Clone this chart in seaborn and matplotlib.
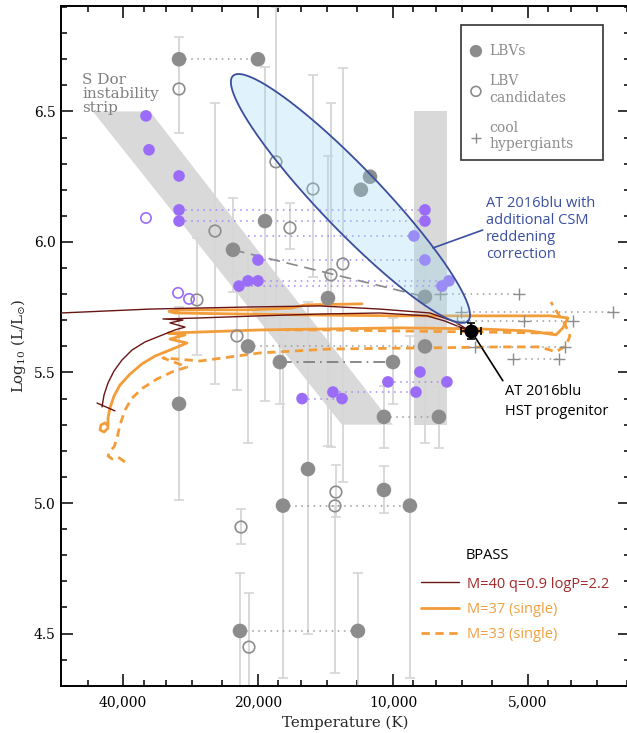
import numpy as np
import pandas as pd
import matplotlib
matplotlib.use("Agg")
import matplotlib.pyplot as plt
from matplotlib.ticker import FixedLocator, FuncFormatter, NullFormatter, MultipleLocator
from matplotlib.patches import Rectangle
import seaborn as sns

nan = np.nan

# LBVs (filled grey): temperature (K), log L, lower / upper end of error bar
lbv_T = [30000, 20000, 19290, 22740, 8484, 8484, 21050, 30000, 17870, 10000,
         13960, 11790, 11250, 10474, 7898, 15470, 10474, 17590, 9166, 21940, 11970]
lbv_L = [6.70, 6.70, 6.08, 5.97, 5.79, 5.60, 5.60, 5.38, 5.54, 5.54,
         5.785, 6.20, 6.25, 5.33, 5.33, 5.13, 5.05, 4.99, 4.99, 4.51, 4.51]
lbv_lo = [nan, nan, 5.39, 5.81, nan, 5.23, 5.23, 5.01, 5.38, 5.38,
          5.22, nan, nan, 5.21, 5.21, 4.50, 4.96, 4.33, 4.33, 4.28, 4.28]
lbv_hi = [nan, nan, 6.67, 6.17, nan, 5.98, 5.97, 5.75, 5.71, 5.71,
          6.33, nan, nan, 5.45, 5.45, 5.77, 5.14, 5.64, 5.64, 4.73, 4.73]

# LBV candidates (open grey)
cand_T = [30000, 24940, 27360, 22280, 18240, 15080, 16970, 13750, 12930,
          13400, 13470, 21820, 20950]
cand_L = [6.586, 6.042, 5.778, 5.640, 6.307, 6.203, 6.054, 5.874, 5.916,
          5.042, 4.989, 4.908, 4.448]
cand_lo = [6.418, 5.456, 5.567, 5.433, 5.71, 5.866, 5.973, 5.215, 5.081,
           4.946, 4.349, 4.843, 4.241]
cand_hi = [6.785, 6.533, 6.015, 5.881, 6.90, 6.640, 6.149, 6.533, 6.667,
           5.146, 4.989, 4.977, 4.655]

# Magellanic Cloud stars (purple)
mc_T = [35550, 35000, 30000, 30000, 30000, 20000, 21050, 20000, 22050, 8484, 8484,
        8980, 8484, 7776, 7502, 15950, 13610, 12990, 10260, 8705, 7580, 8885]
mc_L = [6.483, 6.353, 6.253, 6.123, 6.080, 5.931, 5.851, 5.851, 5.831, 6.123, 6.080,
        6.023, 5.931, 5.831, 5.851, 5.40, 5.425, 5.40, 5.464, 5.502, 5.464, 5.425]
mc_open_T = [35550, 30150, 28500]
mc_open_L = [6.092, 5.805, 5.782]

# cool hypergiants
chg_T = [7858, 5236, 7054, 3231, 7200, 5104, 3968, 6564, 4135, 5400, 4264]
chg_L = [5.801, 5.801, 5.732, 5.732, 5.697, 5.697, 5.697, 5.598, 5.598, 5.552, 5.552]

# connections between two states of the same star
grey_pair_T = [(30000, 20000), (21050, 8484), (17590, 9166), (21940, 11970), (10474, 7898),
               (7858, 5236), (7054, 3231), (7200, 3968), (6564, 4135), (5400, 4264)]
grey_pair_L = [6.70, 5.60, 4.99, 4.51, 5.33, 5.801, 5.732, 5.697, 5.598, 5.552]
purple_pair_T = [(30000, 8484), (30000, 8484), (21050, 8980), (20000, 8484), (20000, 7502),
                 (22050, 7776), (15950, 12990), (13610, 8885), (10260, 7580)]
purple_pair_L = [6.123, 6.080, 6.023, 5.931, 5.851, 5.831, 5.40, 5.425, 5.464]
dash_T = [22740, 8484]
dash_L = [5.97, 5.79]
dashdot_T = [17870, 10000]
dashdot_L = [5.54, 5.54]

# BPASS tracks (log Teff, log L)
bin_logT = [4.6489, 4.6444, 4.6355, 4.6221, 4.6043, 4.5820, 4.5530, 4.5196, 4.4861, 4.4638,
            4.4973, 4.4683, 4.5129, 4.4304, 4.2966, 4.1628, 4.0290, 3.9242, 3.8840, 3.8506,
            3.8283, 3.8617, 3.9175, 4.0290, 4.1628, 4.3189, 4.5419, 4.7403, 4.8094]
bin_L = [5.368, 5.414, 5.460, 5.506, 5.548, 5.586, 5.617, 5.640, 5.663, 5.674,
         5.690, 5.701, 5.705, 5.709, 5.717, 5.724, 5.728, 5.717, 5.697, 5.674,
         5.659, 5.694, 5.728, 5.743, 5.755, 5.751, 5.743, 5.728, 5.724]
bin_tick_logT = [4.660, 4.620]
bin_tick_L = [5.383, 5.353]

s37_logT = [4.6355, 4.6444, 4.6534, 4.6511, 4.6422, 4.6355, 4.6355, 4.6311, 4.6221, 4.6088,
            4.5864, 4.5597, 4.5307, 4.4973, 4.4594, 4.4973, 4.4638, 4.5017, 4.4304, 4.2966,
            4.1405, 3.9844, 3.8060, 3.6945, 3.6365, 3.6209, 3.6098, 3.6499, 3.8060, 3.9844,
            4.1628, 4.3412, 4.4861, 4.4995, 4.4750, 4.3189, 4.2252, 4.1962, 4.0691]
s37_L = [5.287, 5.272, 5.280, 5.299, 5.307, 5.295, 5.326, 5.364, 5.410, 5.452,
         5.494, 5.533, 5.563, 5.586, 5.613, 5.628, 5.644, 5.651, 5.655, 5.663,
         5.667, 5.671, 5.667, 5.659, 5.644, 5.671, 5.709, 5.717, 5.717, 5.717,
         5.720, 5.724, 5.728, 5.734, 5.740, 5.740, 5.747, 5.759, 5.763]

s33_logT = [4.5976, 4.6132, 4.6266, 4.6355, 4.6311, 4.6221, 4.6154, 4.6088, 4.5976, 4.5820,
            4.5575, 4.5262, 4.4928, 4.4594, 4.5129, 4.4304, 4.2966, 4.1405, 3.9398, 3.7614,
            3.6722, 3.6365, 3.6142, 3.6053, 3.6164, 3.6343, 3.6477]
s33_L = [5.157, 5.176, 5.169, 5.180, 5.199, 5.215, 5.249, 5.299, 5.356, 5.402,
         5.441, 5.475, 5.502, 5.521, 5.556, 5.544, 5.575, 5.590, 5.594, 5.598,
         5.598, 5.579, 5.602, 5.640, 5.686, 5.732, 5.770]
s33b_logT = [3.6432, 3.8060, 3.9844, 4.1405, 4.2409]
s33b_L = [5.651, 5.655, 5.659, 5.663, 5.663]

# shaded regions
sdor_T = [46700, 34800, 10000, 13000]
sdor_L = [6.5, 6.5, 5.3, 5.3]
bar_T = [8980, 7580]
bar_L = [5.3, 6.5]

# AT 2016blu progenitor and CSM-corrected error ellipse (log T, log L)
prog_T = 6700
prog_L = 5.66
prog_Terr = [[340], [350]]
prog_Lerr = 0.03
ell_center = (4.0948, 6.1667)
ell_a = (-0.2620, -0.4697)
ell_b = (0.0498, -0.0821)

minor_T = [48000, 36000, 32000, 28000, 24000, 18000, 16000, 14000, 12000,
           9000, 8000, 7000, 6000, 4500, 4000, 3500, 3000]

grey = '#8c8c8c'
purple = '#9b6cf7'
brown = '#6a1515'
orange = '#f39c3a'

sns.set_style("ticks")
plt.rcParams['font.family'] = ['DejaVu Serif']
plt.rcParams['mathtext.fontset'] = 'dejavuserif'
plt.rcParams['axes.edgecolor'] = 'black'

fig = plt.figure(figsize=(6.27, 7.33), dpi=100)
ax = fig.add_axes([61 / 627, 47 / 733, 569 / 627, 680 / 733])
ax.set_xscale('log')

ax.fill(sdor_T, sdor_L, color='#d9d9d9', lw=0, zorder=0)
ax.fill_between(bar_T, bar_L[0], bar_L[1], color='#d9d9d9', lw=0, zorder=0)


def err_bars(T, L, lo, hi):
    T, L, lo, hi = map(np.asarray, (T, L, lo, hi))
    m = ~np.isnan(lo)
    ax.errorbar(T[m], L[m], yerr=[L[m] - lo[m], hi[m] - L[m]], fmt='none',
                ecolor='#d6d6d6', elinewidth=1.3, capsize=3.5, capthick=1.2, zorder=1)


err_bars(lbv_T, lbv_L, lbv_lo, lbv_hi)
err_bars(cand_T, cand_L, cand_lo, cand_hi)


def pairs_df(pT, pL):
    rows = []
    for i, ((t1, t2), l) in enumerate(zip(pT, pL)):
        rows += [(i, t1, l), (i, t2, l)]
    return pd.DataFrame(rows, columns=['seg', 'T', 'L'])


def track(logT, L, **kw):
    sns.lineplot(x=10 ** np.array(logT), y=L, sort=False, estimator=None, ax=ax, zorder=3, **kw)
    return ax.lines[-1]


sns.lineplot(data=pairs_df(grey_pair_T, grey_pair_L), x='T', y='L', units='seg',
             estimator=None, sort=False, color='#9a9a9a', lw=1.1,
             linestyle=(0, (1, 3)), ax=ax, zorder=2)
sns.lineplot(data=pairs_df(purple_pair_T, purple_pair_L), x='T', y='L', units='seg',
             estimator=None, sort=False, color='#a486f3', lw=1.1,
             linestyle=(0, (1, 3)), ax=ax, zorder=2)
sns.lineplot(x=dash_T, y=dash_L, sort=False, estimator=None, color='#888888', lw=1.2,
             linestyle=(0, (7, 4)), ax=ax, zorder=2)
sns.lineplot(x=dashdot_T, y=dashdot_L, sort=False, estimator=None, color='#777777', lw=1.2,
             linestyle=(0, (7, 3, 1, 3)), ax=ax, zorder=2)

# evolutionary tracks
h_37 = track(s37_logT, s37_L, color=orange, lw=2.0)
h_33 = track(s33_logT, s33_L, color=orange, lw=2.0, linestyle=(0, (3, 2)))
track(s33b_logT, s33b_L, color=orange, lw=2.0, linestyle=(0, (3, 2)))
h_bin = track(bin_logT, bin_L, color=brown, lw=1.0)
track(bin_tick_logT, bin_tick_L, color=brown, lw=1.0)

# stars
sns.scatterplot(x=lbv_T, y=lbv_L, color=grey, s=110, edgecolor='none', ax=ax, zorder=4)
h_lbv = ax.collections[-1]
sns.scatterplot(x=cand_T, y=cand_L, facecolor='none', edgecolor=grey, linewidth=1.2,
                s=70, ax=ax, zorder=4)
h_cand = ax.collections[-1]
sns.scatterplot(x=chg_T, y=chg_L, marker='+', color=grey, s=80, linewidth=1.0, ax=ax, zorder=4)
h_chg = ax.collections[-1]
sns.scatterplot(x=mc_T, y=mc_L, color=purple, s=70, edgecolor='none', ax=ax, zorder=4)
sns.scatterplot(x=mc_open_T, y=mc_open_L, facecolor='none', edgecolor=purple, linewidth=1.2,
                s=55, ax=ax, zorder=4)

# CSM-corrected region
t = np.linspace(0, 2 * np.pi, 300)
ell_logT = ell_center[0] + ell_a[0] * np.cos(t) + ell_b[0] * np.sin(t)
ell_L = ell_center[1] + ell_a[1] * np.cos(t) + ell_b[1] * np.sin(t)
ax.fill(10 ** ell_logT, ell_L, facecolor='#9ad7f2', alpha=0.3, edgecolor='none', zorder=5)
ax.plot(10 ** ell_logT, ell_L, color='#3b4e9e', lw=1.3, zorder=5)

ax.errorbar(prog_T, prog_L, xerr=prog_Terr, yerr=prog_Lerr, fmt='o', color='black',
            ms=9, elinewidth=1.2, capsize=3, capthick=1.2, zorder=6)

# axes
ax.set_xlim(55000, 2960)
ax.set_ylim(4.299, 6.904)
ax.xaxis.set_major_locator(FixedLocator([40000, 20000, 10000, 5000]))
ax.xaxis.set_major_formatter(FuncFormatter(lambda v, p: f'{int(round(v)):,}'))
ax.xaxis.set_minor_locator(FixedLocator(minor_T))
ax.xaxis.set_minor_formatter(NullFormatter())
ax.yaxis.set_major_locator(MultipleLocator(0.5))
ax.yaxis.set_minor_locator(MultipleLocator(0.1))
ax.yaxis.set_major_formatter(FuncFormatter(lambda v, p: f'{v:.1f}'))
ax.tick_params(which='both', direction='in', top=True, right=True, width=1.1,
               labelsize=10, colors='black')
ax.tick_params(which='major', length=8.5)
ax.tick_params(which='minor', length=4.5)
ax.tick_params(axis='x', which='major', pad=7)
ax.tick_params(axis='y', which='major', pad=4)
for s in ax.spines.values():
    s.set_linewidth(1.4)
ax.set_xlabel('Temperature (K)', fontsize=10.8, labelpad=4)
ax.set_ylabel(r'Log$_{10}$ (L/L$_{\odot}$)', fontsize=10.8, labelpad=4)

ax.text(0.0370, 0.9020, 'S Dor\ninstability\nstrip', transform=ax.transAxes,
        ha='left', va='top', fontsize=11, color='#808080', linespacing=1.03)

ax.annotate('AT 2016blu with\nadditional CSM\nreddening\ncorrection', xy=(8144, 5.977),
            xytext=(6203, 6.176), ha='left', va='top', fontsize=10.5, family='Open Sans',
            color='#3a4fa0', linespacing=1.17,
            arrowprops=dict(arrowstyle='-', color='#3a4fa0', lw=1.2, relpos=(0, 0.5),
                            shrinkA=0, shrinkB=0))
ax.annotate('AT 2016blu\nHST progenitor', xy=(prog_T, prog_L), xytext=(5627, 5.456),
            ha='left', va='top', fontsize=10.5, family='Open Sans', color='black',
            linespacing=1.5,
            arrowprops=dict(arrowstyle='-', color='black', lw=1.2, relpos=(0, 1),
                            shrinkA=0, shrinkB=6))

# symbol legend
leg1 = ax.legend([h_lbv, h_cand, h_chg], ['LBVs', 'LBV\ncandidates', 'cool\nhypergiants'],
                 loc='upper left', bbox_to_anchor=(0.717, 0.9445), frameon=False,
                 borderpad=0, borderaxespad=0, handlelength=1.0, handletextpad=0.44,
                 labelspacing=1.2, fontsize=10, labelcolor=grey, markerscale=0.85)
ax.add_artist(leg1)
ax.add_patch(Rectangle((0.703, 0.7735), 0.2496, 0.1985, transform=ax.transAxes,
                       fill=False, ec='#333333', lw=1.2, zorder=6))

# BPASS legend
ax.text(0.7118, 0.1926, 'BPASS', transform=ax.transAxes, ha='left', va='center',
        fontsize=10.5, family='Open Sans', color='black')
ax.legend([h_bin, h_37, h_33], ['M=40 q=0.9 logP=2.2', 'M=37 (single)', 'M=33 (single)'],
          loc='upper left', bbox_to_anchor=(0.6327, 0.161), frameon=False, borderpad=0,
          borderaxespad=0, handlelength=2.6, handletextpad=0.58, labelspacing=0.71,
          prop={'family': 'Open Sans', 'size': 10.5},
          labelcolor=['#a12a2a', '#f0a040', '#f0a040'])

fig.savefig('out.png', dpi=100)
